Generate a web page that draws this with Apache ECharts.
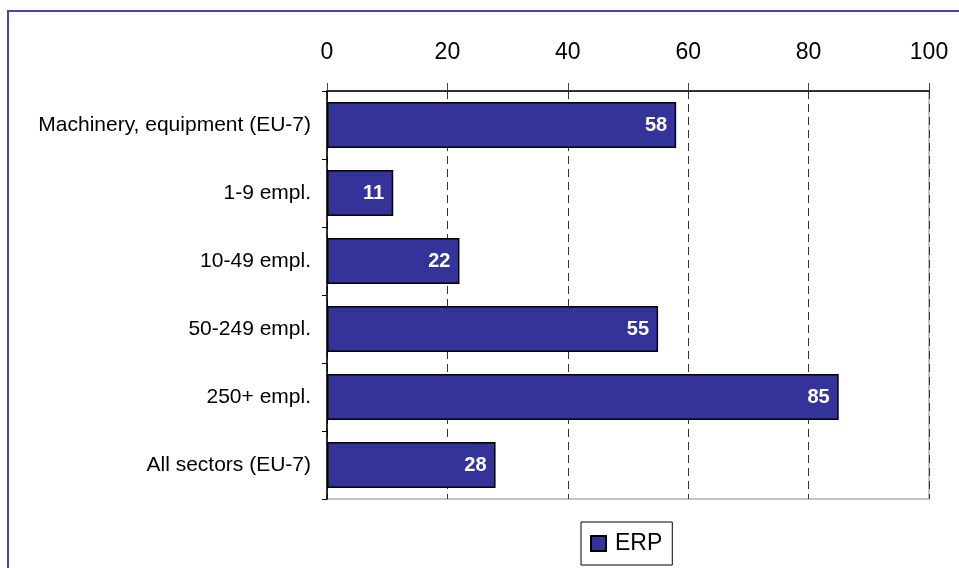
<!DOCTYPE html>
<html>
<head>
<meta charset="utf-8">
<script src="https://cdn.jsdelivr.net/npm/echarts@6/dist/echarts.min.js"></script>
<style>
html, body { margin: 0; padding: 0; background: #fff; }
#chart { width: 959px; height: 568px; }
</style>
</head>
<body>
<div id="chart"></div>
<script>
var categories = ['Machinery, equipment (EU-7)', '1-9 empl.', '10-49 empl.', '50-249 empl.', '250+ empl.', 'All sectors (EU-7)'];
var erpValues = [58, 11, 22, 55, 85, 28];
var seriesName = 'ERP';

var chart = echarts.init(document.getElementById('chart'));
chart.setOption({
	animation: false,
	textStyle: { fontFamily: 'Liberation Sans, Arial, sans-serif' },
	graphic: [{
		type: 'rect',
		shape: { x: 8, y: 11, width: 1000, height: 700 },
		style: { fill: 'none', stroke: '#4646a6', lineWidth: 2 },
		z: 0
	}],
	grid: {
		left: 327, right: 30, top: 91, bottom: 69,
		show: true, borderColor: '#b0b0b0', borderWidth: 1.5
	},
	legend: {
		left: 581, top: 522,
		data: [{ name: seriesName, icon: 'rect' }],
		itemWidth: 15, itemHeight: 15,
		borderColor: '#000', borderWidth: 1,
		padding: [10, 10, 10, 9],
		textStyle: { fontSize: 23, color: '#000', padding: [0, 0, 0, 4] }
	},
	xAxis: {
		type: 'value', position: 'top',
		min: 0, max: 100, interval: 20,
		axisLine: { show: true, lineStyle: { color: '#000', width: 1.5 } },
		axisTick: { show: true, length: 8, lineStyle: { color: '#444' } },
		axisLabel: { fontSize: 23, color: '#000', margin: 27 },
		splitLine: { show: true, lineStyle: { color: '#333', type: [8, 5], width: 1 } }
	},
	yAxis: {
		type: 'category', inverse: true,
		data: categories,
		axisLine: { show: true, lineStyle: { color: '#000', width: 1.5 } },
		axisTick: { show: true, length: 5, lineStyle: { color: '#000' } },
		axisLabel: { fontSize: 21, color: '#000', margin: 16 }
	},
	series: [{
		name: seriesName,
		type: 'bar',
		data: erpValues,
		barCategoryGap: '32%',
		itemStyle: { color: '#333399', borderColor: '#000', borderWidth: 1.5 },
		label: {
			show: true, position: 'insideRight', distance: 9,
			color: '#fff', fontWeight: 'bold', fontSize: 20
		}
	}]
});
</script>
</body>
</html>
